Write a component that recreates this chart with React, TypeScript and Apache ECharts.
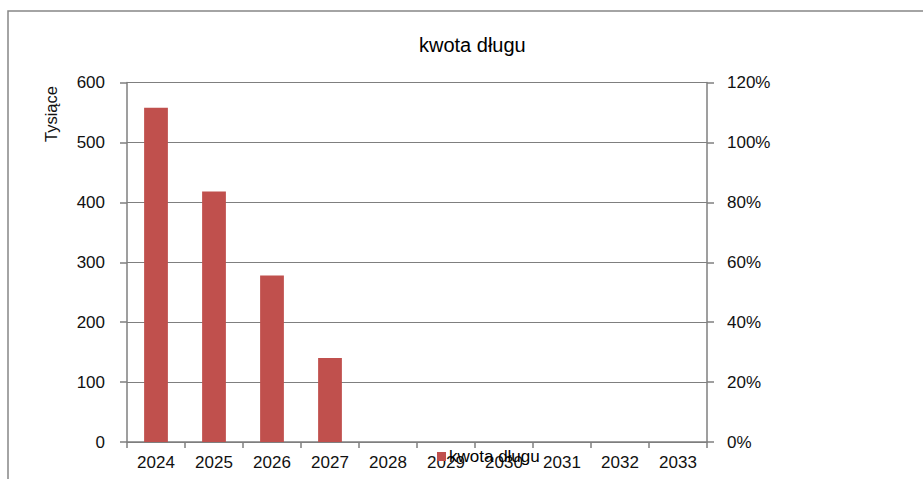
import React, { useEffect, useRef } from "react";
import * as echarts from "echarts";

const categories = ["2024", "2025", "2026", "2027", "2028", "2029", "2030", "2031", "2032", "2033"];
const debtValues = [558, 418, 278, 140, 0, 0, 0, 0, 0, 0];
const seriesName = "kwota długu";
const titleText = "kwota długu";
const leftAxisName = "Tysiące";

const FONT = "'Liberation Sans', Arial, sans-serif";

export default function App() {
  const ref = useRef<HTMLDivElement>(null);
  useEffect(() => {
    if (!ref.current) return;
    const chart = echarts.init(ref.current, undefined, { renderer: "svg" });
    chart.setOption({
      animation: false,
      backgroundColor: "#ffffff",
      textStyle: { fontFamily: FONT },
      title: {
        text: titleText,
        left: 414,
        top: 30,
        textStyle: { fontFamily: FONT, fontSize: 20, fontWeight: "normal", color: "#000" },
      },
      legend: {
        data: [seriesName],
        left: 432,
        top: 443,
        icon: "rect",
        itemWidth: 9,
        itemHeight: 9,
        itemGap: 5,
        textStyle: { fontFamily: FONT, fontSize: 17, color: "#000", padding: [0, 0, 0, -2] },
      },
      grid: { left: 127, right: 216, top: 82.5, bottom: 37 },
      xAxis: {
        type: "category",
        data: categories,
        axisLine: { lineStyle: { color: "#7f7f7f", width: 1.5 } },
        axisTick: { show: true, length: 6, lineStyle: { color: "#7f7f7f", width: 1.5 } },
        axisLabel: { fontFamily: FONT, fontSize: 17, color: "#111", margin: 12 },
      },
      yAxis: [
        {
          type: "value",
          min: 0,
          max: 600,
          interval: 100,
          position: "left",
          axisLine: { show: true, lineStyle: { color: "#7f7f7f", width: 1.5 } },
          axisTick: { show: true, length: 7, lineStyle: { color: "#7f7f7f", width: 1.5 } },
          splitLine: { show: true, lineStyle: { color: "#7f7f7f", width: 1.2 } },
          axisLabel: { fontFamily: FONT, fontSize: 17, color: "#111", margin: 22 },
        },
        {
          type: "value",
          min: 0,
          max: 1.2,
          interval: 0.2,
          position: "right",
          axisLine: { show: true, lineStyle: { color: "#7f7f7f", width: 1.5 } },
          axisTick: { show: true, length: 7, lineStyle: { color: "#7f7f7f", width: 1.5 } },
          splitLine: { show: false },
          axisLabel: {
            fontFamily: FONT,
            fontSize: 17,
            color: "#111",
            margin: 20,
            formatter: (v: number) => Math.round(v * 100) + "%",
          },
        },
      ],
      series: [
        {
          name: seriesName,
          type: "bar",
          data: debtValues,
          yAxisIndex: 0,
          barWidth: "41%",
          itemStyle: { color: "#C0504D" },
        },
      ],
      graphic: [
        {
          type: "rect",
          shape: { x: 8, y: 11, width: 2000, height: 2000 },
          style: { fill: "none", stroke: "#868686", lineWidth: 1.5 },
          silent: true,
        },
        {
          type: "text",
          x: 51,
          y: 114,
          rotation: Math.PI / 2,
          style: {
            text: leftAxisName,
            fontFamily: FONT,
            fontSize: 16.5,
            fill: "#111",
            align: "center",
            verticalAlign: "middle",
          },
          silent: true,
        },
      ],
    });
    return () => chart.dispose();
  }, []);
  return (
    <div
      ref={ref}
      style={{ position: "fixed", left: 0, top: 0, width: 923, height: 479 }}
    />
  );
}
